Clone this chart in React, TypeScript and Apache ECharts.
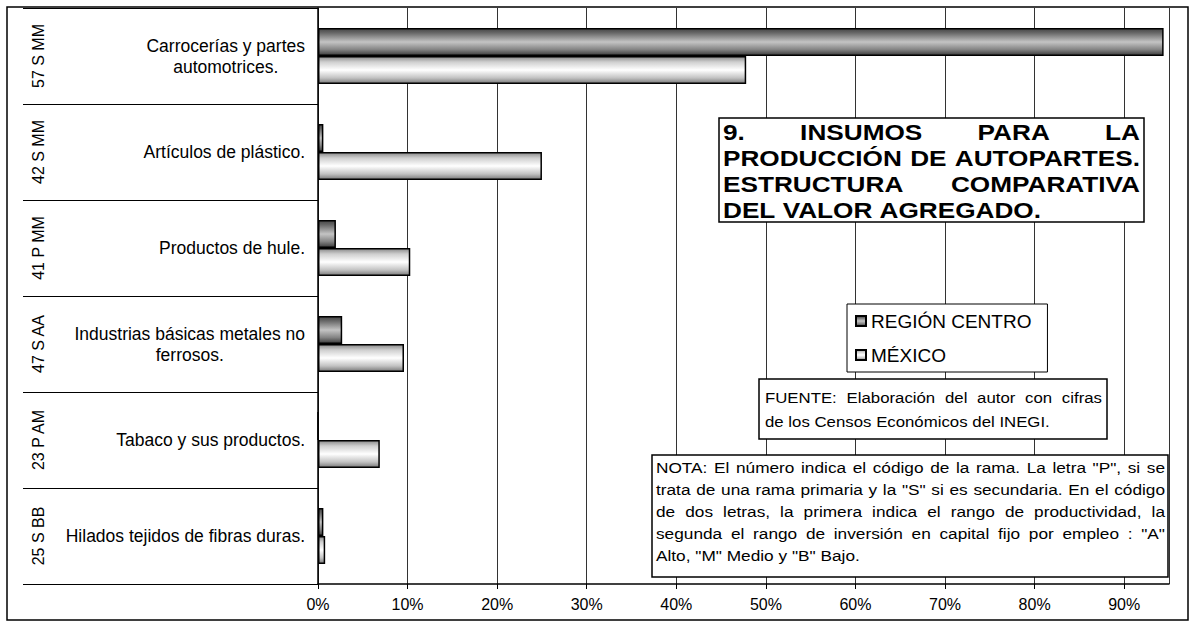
import React, { useEffect, useRef } from 'react';
import * as echarts from 'echarts';

// ---------- data ----------
const categoryNames = [
  'Carrocerías y partes\nautomotrices.',
  'Artículos de plástico.',
  'Productos de hule.',
  'Industrias básicas metales no\nferrosos.',
  'Tabaco y sus productos.',
  'Hilados tejidos de fibras duras.',
];
const branchCodes = ['57 S MM', '42 S MM', '41 P MM', '47 S AA', '23 P AM', '25 S BB'];
const seriesNames = ['REGIÓN CENTRO', 'MÉXICO'];
const regionCentro = [94.4, 0.6, 2.0, 2.7, 0, 0.6];
const mexico = [47.8, 25.0, 10.3, 9.6, 6.9, 0.8];
const xMin = 0;
const xMax = 95;
const xInterval = 10;

const titleLines = ['9. INSUMOS PARA LA', 'PRODUCCIÓN DE AUTOPARTES.', 'ESTRUCTURA COMPARATIVA', 'DEL VALOR AGREGADO.'];
const sourceLines = ['FUENTE: Elaboración del autor con cifras', 'de los Censos Económicos del INEGI.'];
const noteLines = [
  'NOTA: El número indica el código de la rama. La letra "P", si se',
  'trata de una rama primaria y la "S" si es secundaria. En el código',
  'de dos letras, la primera indica el rango de productividad, la',
  'segunda el rango de inversión en capital fijo por empleo : "A"',
  'Alto, "M" Medio y "B" Bajo.',
];

const FONT = '"Liberation Sans", Arial, Helvetica, sans-serif';

let measureCtx: CanvasRenderingContext2D | null = null;
function measure(text: string, size: number, weight: string): number {
  if (!measureCtx) measureCtx = document.createElement('canvas').getContext('2d');
  measureCtx!.font = `${weight} ${size}px "Liberation Sans", Arial, sans-serif`;
  return measureCtx!.measureText(text).width;
}

function textBlock(
  lines: string[],
  o: { x0: number; x1: number; yCenter0: number; lineHeight: number; size: number; weight: string; sx: number; z: number }
) {
  const els: any[] = [];
  lines.forEach((line, li) => {
    const words = line.split(' ');
    const widths = words.map((w) => measure(w, o.size, o.weight) * o.sx);
    const total = widths.reduce((a, b) => a + b, 0);
    const isLast = li === lines.length - 1;
    const gap = !isLast && words.length > 1
      ? (o.x1 - o.x0 - total) / (words.length - 1)
      : measure(' ', o.size, o.weight) * o.sx;
    let x = o.x0;
    const y = o.yCenter0 + li * o.lineHeight;
    words.forEach((w, i) => {
      els.push({
        type: 'text',
        x,
        y,
        scaleX: o.sx,
        z: o.z,
        style: {
          text: w,
          fontSize: o.size,
          fontWeight: o.weight,
          fontFamily: FONT,
          fill: '#000',
          align: 'left',
          verticalAlign: 'middle',
        },
      });
      x += widths[i] + gap;
    });
  });
  return els;
}

const rcGradient = {
  type: 'linear', x: 0, y: 0, x2: 0, y2: 1,
  colorStops: [
    { offset: 0, color: '#474747' },
    { offset: 0.15, color: '#666666' },
    { offset: 0.5, color: '#c4c4c4' },
    { offset: 0.78, color: '#858585' },
    { offset: 1, color: '#3c3c3c' },
  ],
};
const mxGradient = {
  type: 'linear', x: 0, y: 0, x2: 0, y2: 1,
  colorStops: [
    { offset: 0, color: '#8a8a8a' },
    { offset: 0.2, color: '#cfcfcf' },
    { offset: 0.5, color: '#ffffff' },
    { offset: 0.8, color: '#c2c2c2' },
    { offset: 1, color: '#7a7a7a' },
  ],
};

export default function App() {
  const ref = useRef<HTMLDivElement>(null);
  useEffect(() => {
    if (!ref.current) return;
    const chart = echarts.init(ref.current, undefined, { renderer: 'svg' });

    const graphic: any[] = [
      { type: 'rect', z: 1, shape: { x: 7, y: 7, width: 1181, height: 613 }, style: { fill: 'none', stroke: '#000', lineWidth: 1.5 } },
      { type: 'rect', z: 20, shape: { x: 719, y: 118, width: 425, height: 104 }, style: { fill: '#fff', stroke: '#000', lineWidth: 1.5 } },
      ...textBlock(titleLines, { x0: 723, x1: 1140, yCenter0: 132, lineHeight: 26, size: 22, weight: 'bold', sx: 1.19, z: 21 }),
      { type: 'rect', z: 20, shape: { x: 759, y: 379, width: 348, height: 60 }, style: { fill: '#fff', stroke: '#000', lineWidth: 1.5 } },
      ...textBlock(sourceLines, { x0: 765, x1: 1102, yCenter0: 398, lineHeight: 24, size: 15, weight: 'normal', sx: 1.12, z: 21 }),
      { type: 'rect', z: 20, shape: { x: 652, y: 455, width: 516, height: 122 }, style: { fill: '#fff', stroke: '#000', lineWidth: 1.5 } },
      ...textBlock(noteLines, { x0: 656, x1: 1165, yCenter0: 467, lineHeight: 22, size: 15, weight: 'normal', sx: 1.15, z: 21 }),
    ];

    chart.setOption({
      animation: false,
      backgroundColor: '#fff',
      grid: { left: 318, right: 22, top: 8, bottom: 39, containLabel: false },
      xAxis: {
        type: 'value',
        min: xMin,
        max: xMax,
        interval: xInterval,
        axisLine: { show: true, lineStyle: { color: '#000', width: 1.5 } },
        axisTick: { show: true, length: 5, lineStyle: { color: '#000' } },
        splitLine: { show: true, lineStyle: { color: '#333', width: 1 } },
        axisLabel: {
          formatter: (v: number) => (v % xInterval === 0 ? `${v}%` : ''),
          fontSize: 16,
          fontFamily: FONT,
          color: '#000',
          margin: 12,
          showMaxLabel: false,
        },
      },
      yAxis: [
        {
          type: 'category',
          data: categoryNames,
          inverse: true,
          axisLine: { show: true, lineStyle: { color: '#000', width: 1.5 } },
          axisTick: { show: true, length: 295, lineStyle: { color: '#000', width: 1 } },
          splitLine: { show: false },
          axisLabel: {
            interval: 0,
            margin: 13,
            formatter: (v: string) => v.split('\n').map((l) => `{c|${l}}`).join('\n'),
            rich: { c: { align: 'center', fontSize: 17.5, lineHeight: 21, fontFamily: FONT, color: '#000' } },
          },
        },
        {
          type: 'category',
          data: branchCodes,
          inverse: true,
          position: 'left',
          axisLine: { show: false },
          axisTick: { show: false },
          splitLine: { show: false },
          axisLabel: { interval: 0, rotate: 90, margin: 272, fontSize: 16, fontFamily: FONT, color: '#000' },
        },
      ],
      legend: {
        orient: 'vertical',
        left: 847,
        top: 304,
        icon: 'rect',
        itemWidth: 10,
        itemHeight: 10,
        itemGap: 14,
        padding: [7, 16, 7, 8],
        backgroundColor: '#fff',
        borderColor: '#000',
        borderWidth: 1,
        z: 10,
        textStyle: { fontSize: 19, lineHeight: 20, fontFamily: FONT, color: '#000' },
        data: seriesNames,
      },
      series: [
        {
          name: seriesNames[0],
          type: 'bar',
          yAxisIndex: 0,
          data: regionCentro,
          barWidth: 28,
          barGap: '0%',
          itemStyle: { color: rcGradient, borderColor: '#000', borderWidth: 1.5 },
        },
        {
          name: seriesNames[1],
          type: 'bar',
          yAxisIndex: 0,
          data: mexico,
          barWidth: 28,
          barGap: '0%',
          itemStyle: { color: mxGradient, borderColor: '#000', borderWidth: 1.5 },
        },
      ],
      graphic,
    });
    return () => chart.dispose();
  }, []);
  return <div ref={ref} style={{ position: 'absolute', left: 0, top: 0, width: 1191, height: 623 }} />;
}
